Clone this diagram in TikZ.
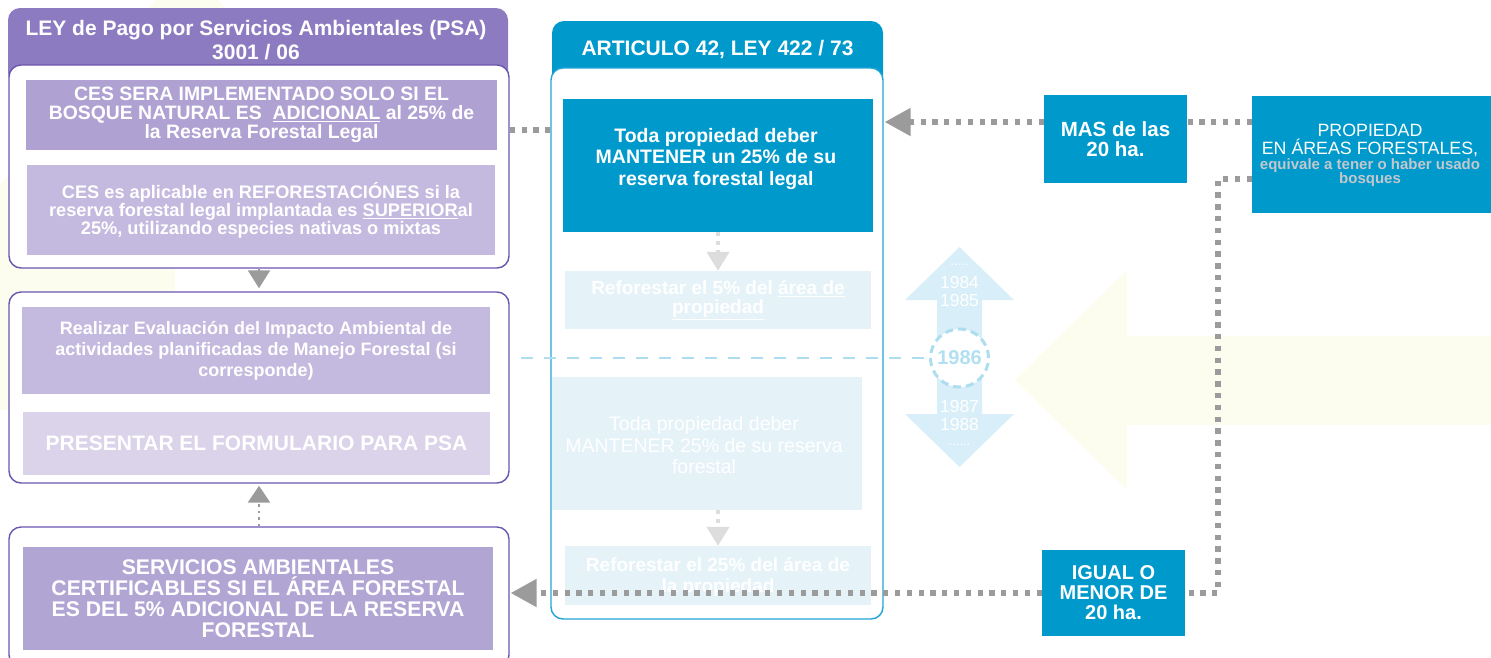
\documentclass[tikz,border=0pt]{standalone}
\usepackage{fontspec}
\setmainfont{Liberation Sans}
\usetikzlibrary{arrows.meta,calc}
\definecolor{hdrP}{HTML}{8C7BC1}
\definecolor{brdP}{HTML}{6A55B0}
\definecolor{cesA}{HTML}{AFA2D3}
\definecolor{cesB}{HTML}{C4B9DE}
\definecolor{presC}{HTML}{DAD3EA}
\definecolor{servC}{HTML}{B1A5D4}
\definecolor{blueM}{HTML}{0099CC}
\definecolor{blueB}{HTML}{22A5D6}
\definecolor{lightB}{HTML}{E5F3F9}
\definecolor{arrB}{HTML}{D8EEF8}
\definecolor{dashB}{HTML}{AEDDF0}
\definecolor{yrB}{HTML}{B2E0F2}
\definecolor{dotG}{HTML}{9B9B9B}
\definecolor{ltG}{HTML}{DDDDDD}
\definecolor{yelF}{HTML}{FCFCEF}
\definecolor{propG}{HTML}{C2C8CC}
\newcommand{\fsz}[2]{\fontsize{#1}{#2}\selectfont}
\begin{document}
\begin{tikzpicture}[x=1pt,y=-1pt,
  wbox/.style={draw=#1, fill=white, line width=1.4pt, rounded corners=12pt, inner sep=0pt},
  rectbox/.style={fill=#1, inner sep=0pt, text=white, align=center},
  txt/.style={inner sep=0pt, text=white, align=center},
  gdot/.style={draw=dotG, line width=5.3pt, dash pattern=on 5.3pt off 6.5pt},
  gtip/.style={-{Triangle[length=26pt,width=27pt]}},
  ldot/.style={draw=ltG, line width=4pt, dash pattern=on 4pt off 5pt, -{Triangle[length=19pt,width=22pt]}},
  bdash/.style={draw=dashB, line width=2.5pt, dash pattern=on 12pt off 11pt}
]
\useasboundingbox (0,0) rectangle (1491,657);
% faint background arrows
\fill[yelF] (160,-5) -- (214,-5) -- (300,100) -- (175,200) -- (175,410) -- (0,410) -- (0,185) -- cycle;
\fill[yelF] (1015,380) -- (1127,270) -- (1127,336) -- (1495,336) -- (1495,425) -- (1127,425) -- (1127,490) -- cycle;

% ---------------- left column ----------------
\fill[hdrP, rounded corners=12pt] (8,85) -- (8,8) -- (508,8) -- (508,85) -- cycle;
\node[txt, font=\bfseries\fsz{21}{24}] (ltitle) at (256,40) {LEY de Pago por Servicios Ambientales (PSA)\\3001 / 06};
\node[wbox=brdP, minimum width=500, minimum height=203] (lb1) at (259,166.5) {};
\node[rectbox=cesA, minimum width=471, minimum height=70, font=\bfseries\fsz{19.4}{19}] (ces1) at (261.5,115)
  {CES SERA IMPLEMENTADO SOLO SI EL\\BOSQUE NATURAL ES \ \underline{ADICIONAL} al 25\% de\\la Reserva Forestal Legal};
\node[rectbox=cesB, minimum width=468, minimum height=90, font=\bfseries\fsz{18.2}{18}] (ces2) at (261,210)
  {CES es aplicable en REFORESTACIÓNES si la\\reserva forestal legal implantada es \underline{SUPERIOR}al\\25\%, utilizando especies nativas o mixtas};

\node[wbox=brdP, minimum width=500, minimum height=191] (lb2) at (259,387.5) {};
\node[rectbox=cesB, minimum width=468, minimum height=87, font=\bfseries\fsz{18}{21}] (eval) at (256,350.5)
  {Realizar Evaluación del Impacto Ambiental de\\actividades planificadas de Manejo Forestal (si\\corresponde)};
\node[rectbox=presC, minimum width=467, minimum height=63, font=\bfseries\fsz{21}{21}] (pres) at (256.5,443.5)
  {PRESENTAR EL FORMULARIO PARA PSA};

\node[wbox=brdP, minimum width=500, minimum height=140] (lb3) at (259,597) {};
\node[rectbox=servC, minimum width=470, minimum height=103, font=\bfseries\fsz{21.2}{21}] (serv) at (258,598.5)
  {SERVICIOS AMBIENTALES\\CERTIFICABLES SI EL ÁREA FORESTAL\\ES DEL 5\% ADICIONAL DE LA RESERVA\\FORESTAL};

\draw[dotG, line width=2pt, -{Triangle[length=18pt,width=22pt]}] (lb1.south) -- ([yshift=3pt]lb2.north);
\draw[dotG, line width=2.5pt, dash pattern=on 2.5pt off 4pt, -{Triangle[length=17pt,width=22pt]}] (lb3.north) -- ([yshift=-2pt]lb2.south);

% ---------------- middle column ----------------
\fill[blueM, rounded corners=12pt] (552,90) -- (552,21) -- (883,21) -- (883,90) -- cycle;
\node[txt, font=\bfseries\fsz{21}{24}] (atitle) at (717.5,50) {ARTICULO 42, LEY 422 / 73};
\node[wbox=blueB, minimum width=332, minimum height=551] (artbox) at (717,343.5) {};
\node[rectbox=blueM, minimum width=310, minimum height=133] (toda1) at (718,165.5) {};
\node[txt, font=\bfseries\fsz{19.5}{21.5}] (toda1t) at (716,158.5) {Toda propiedad deber\\MANTENER un 25\% de su\\reserva forestal legal};
\node[rectbox=lightB, minimum width=306, minimum height=58, font=\bfseries\fsz{19}{19}] (ref5) at (718,300)
  {Reforestar el 5\% del \underline{área de}\\\underline{propiedad}};
\node[rectbox=lightB, minimum width=310, minimum height=133] (toda2) at (707,443.5) {};
\node[txt, font=\fsz{19.5}{21.5}] (toda2t) at (704,445.5) {Toda propiedad deber\\MANTENER 25\% de su reserva\\forestal};
\node[rectbox=lightB, minimum width=306, minimum height=59] (ref25) at (718,575.5) {};
\node[txt, font=\bfseries\fsz{19}{21}] (ref25t) at (718,576.5) {Reforestar el 25\% del área de\\la propiedad};
\draw[ldot] (toda1.south) -- (ref5.north);
\draw[ldot] (ref25.north |- toda2.south) -- (ref25.north);

% ---------------- timeline ----------------
\fill[arrB] (959.5,247) -- (1014,300) -- (982,300) -- (982,414) -- (1014,414) -- (959.5,467)
  -- (905,414) -- (937,414) -- (937,300) -- (905,300) -- cycle;
\node[txt, font=\fsz{13}{13}] (ydotA) at (959.5,265) {.....};
\node[txt, font=\fsz{17.5}{18}] (y84) at (959.5,282) {1984};
\node[txt, font=\fsz{17.5}{18}] (y85) at (959.5,300) {1985};
\node[txt, font=\fsz{17.5}{18}] (y87) at (959.5,406) {1987};
\node[txt, font=\fsz{17.5}{18}] (y88) at (959.5,424) {1988};
\node[txt, font=\fsz{13}{13}] (ydotB) at (959.5,445) {......};
\node[circle, fill=white, draw=dashB, line width=3pt, dash pattern=on 8pt off 5pt, minimum size=58pt, inner sep=0pt,
  text=yrB, font=\bfseries\fsz{20}{20}] (c1986) at (959.5,358) {1986};
\draw[bdash] ([xshift=11pt]lb2.east |- c1986) -- (c1986.west);

% ---------------- right column ----------------
\node[rectbox=blueM, minimum width=143, minimum height=88, font=\bfseries\fsz{20.5}{20}] (mas) at (1115.5,139) {MAS de las\\20 ha.};
\node[rectbox=blueM, minimum width=243, minimum height=117] (prop) at (1373.5,154.5) {};
\node[txt, font=\fsz{17.8}{18}] (propA) at (1370,140) {PROPIEDAD\\EN ÁREAS FORESTALES,};
\node[txt, text=propG, font=\bfseries\fsz{15}{14}] (propB) at (1370,173) {equivale a tener o haber usado\\bosques};
\node[rectbox=blueM, minimum width=143, minimum height=86, font=\bfseries\fsz{20}{20}] (igual) at (1113.5,593) {IGUAL O\\MENOR DE\\20 ha.};

% ---------------- connectors ----------------
\coordinate (yA) at (0,122);
\coordinate (yB) at (0,179);
\coordinate (yC) at (0,130);
\coordinate (vx) at (1218,0);
\draw[gdot] (prop.west |- yA) -- (mas.east |- yA);
\draw[gdot, gtip] (mas.west |- yA) -- ([xshift=1pt]artbox.east |- yA);
\draw[gdot] (prop.west |- yB) -| (vx |- igual.east) -- (igual.east);
\draw[gdot, gtip] (igual.west) -- ([xshift=1pt]lb3.east |- igual.west);
\draw[gdot] (lb1.east |- yC) -- (artbox.west |- yC);
\end{tikzpicture}
\end{document}
